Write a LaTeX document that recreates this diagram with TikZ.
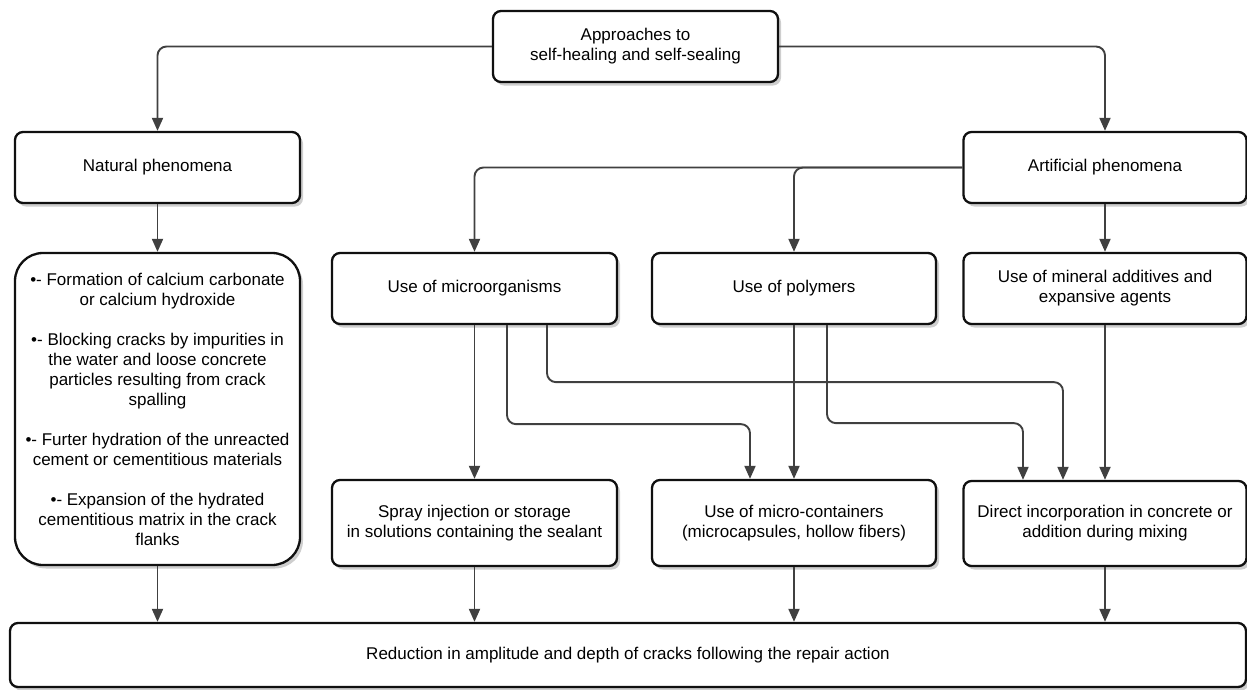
\documentclass[tikz,border=0pt]{standalone}
\usepackage{fontspec}
\setmainfont{Liberation Sans}
\usetikzlibrary{arrows.meta,shadows}
\definecolor{conncol}{HTML}{404040}
\definecolor{boxcol}{HTML}{101010}
\begin{document}
\begin{tikzpicture}[x=1pt,y=-1pt,
  box/.style={draw=boxcol, line width=2.3pt, rounded corners=8pt, fill=white,
    align=center, inner sep=0pt, font=\fontsize{17}{20}\selectfont,
    drop shadow={shadow xshift=3pt, shadow yshift=-3.5pt, opacity=0.35, fill=black!55}},
  link/.style={draw=conncol, line width=1.9pt, rounded corners=9pt,
    -{Triangle[length=13pt,width=11pt,fill=conncol]}}]
\useasboundingbox (0,0) rectangle (1247,689);

\node[box, minimum width=285pt, minimum height=71pt] (top) at (635.5,46.5)
  {Approaches to\\self-healing and self-sealing};
\node[box, minimum width=285pt, minimum height=71pt] (nat) at (157.5,167.5)
  {Natural phenomena};
\node[box, minimum width=283pt, minimum height=71pt] (art) at (1105,167.5)
  {Artificial phenomena};
\node[box, minimum width=285pt, minimum height=312pt, rounded corners=28pt] (left) at (157.5,409)
  {•- Formation of calcium carbonate\\or calcium hydroxide\\[20pt]
   •- Blocking cracks by impurities in\\the water and loose concrete\\particles resulting from crack\\spalling\\[20pt]
   •- Furter hydration of the unreacted\\cement or cementitious materials\\[20pt]
   •- Expansion of the hydrated\\cementitious matrix in the crack\\flanks};
\node[box, minimum width=285pt, minimum height=71pt] (micro) at (474.5,288.5)
  {Use of microorganisms};
\node[box, minimum width=284pt, minimum height=71pt] (poly) at (794,288.5)
  {Use of polymers};
\node[box, minimum width=283pt, minimum height=71pt] (mineral) at (1105,288.5)
  {Use of mineral additives and\\expansive agents};
\node[box, minimum width=285pt, minimum height=86pt] (spray) at (474.5,523)
  {Spray injection or storage\\in solutions containing the sealant};
\node[box, minimum width=284pt, minimum height=86pt] (cont) at (794,523)
  {Use of micro-containers\\(microcapsules, hollow fibers)};
\node[box, minimum width=283pt, minimum height=85pt] (direct) at (1105,523.5)
  {Direct incorporation in concrete or\\addition during mixing};
\node[box, minimum width=1236pt, minimum height=64pt] (bottom) at (628,655)
  {Reduction in amplitude and depth of cracks following the repair action};

\coordinate (c507) at (507,0);
\coordinate (c547) at (547,0);
\coordinate (c750) at (750,0);
\coordinate (c827) at (827,0);
\coordinate (c1023) at (1023,0);
\coordinate (c1063) at (1063,0);

\draw[link] (top.west) -| (nat.north);
\draw[link] (top.east) -| (art.north);
\draw[link] (nat.south) -- (left.north);
\draw[link] (art.west) -| (micro.north);
\draw[link] (art.west) -| (poly.north);
\draw[link] (art.south) -- (mineral.north);
\draw[link] (micro.south) -- (spray.north);
\draw[link] (micro.south -| c507) -- ++(0,99) -| (cont.north -| c750);
\draw[link] (micro.south -| c547) -- ++(0,57) -| (direct.north -| c1063);
\draw[link] (poly.south) -- (cont.north);
\draw[link] (poly.south -| c827) -- ++(0,98) -| (direct.north -| c1023);
\draw[link] (mineral.south) -- (direct.north);
\draw[link] (left.south) -- (bottom.north -| left.south);
\draw[link] (spray.south) -- (bottom.north -| spray.south);
\draw[link] (cont.south) -- (bottom.north -| cont.south);
\draw[link] (direct.south) -- (bottom.north -| direct.south);
\end{tikzpicture}
\end{document}
